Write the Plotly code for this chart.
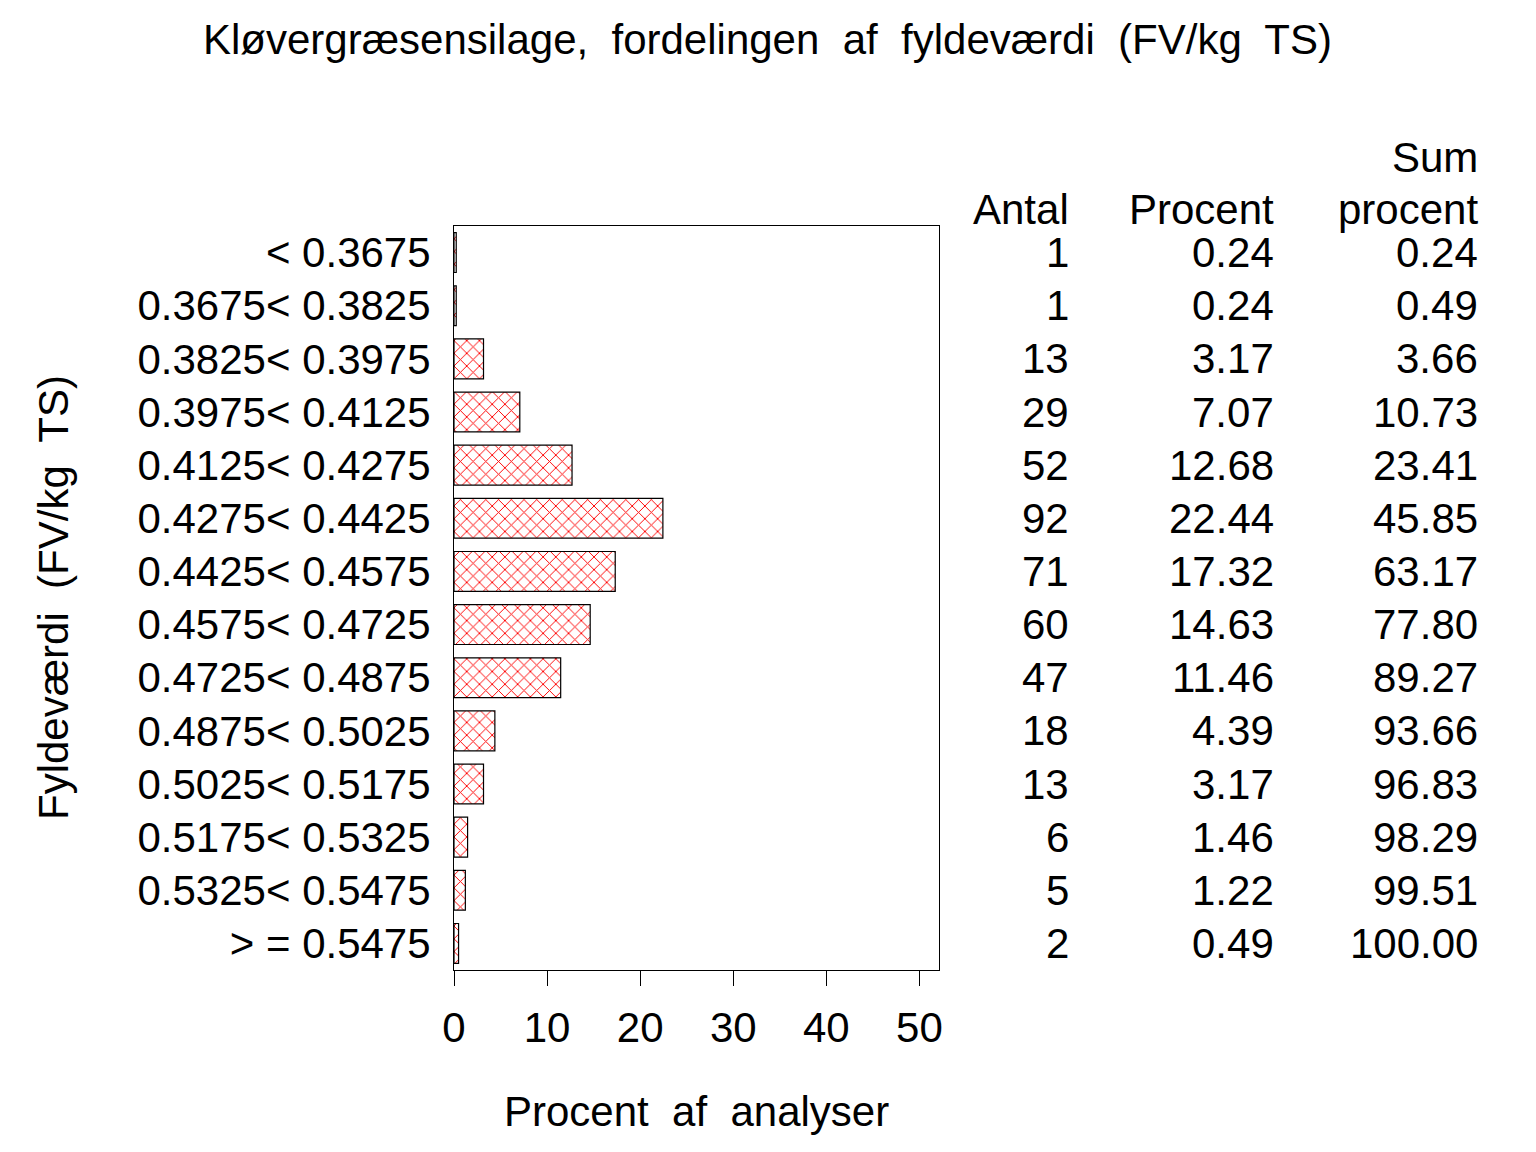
import plotly.graph_objects as go

W, H = 1536, 1152

categories = ["< 0.3675", "0.3675< 0.3825", "0.3825< 0.3975", "0.3975< 0.4125",
              "0.4125< 0.4275", "0.4275< 0.4425", "0.4425< 0.4575", "0.4575< 0.4725",
              "0.4725< 0.4875", "0.4875< 0.5025", "0.5025< 0.5175", "0.5175< 0.5325",
              "0.5325< 0.5475", "> = 0.5475"]
antal = [1, 1, 13, 29, 52, 92, 71, 60, 47, 18, 13, 6, 5, 2]
procent = [0.24, 0.24, 3.17, 7.07, 12.68, 22.44, 17.32, 14.63, 11.46, 4.39, 3.17, 1.46, 1.22, 0.49]
sum_procent = [0.24, 0.49, 3.66, 10.73, 23.41, 45.85, 63.17, 77.80, 89.27, 93.66, 96.83, 98.29, 99.51, 100.00]
x_ticks = [0, 10, 20, 30, 40, 50]

FONT = "Liberation Sans, Arial, sans-serif"
FS = 42

# plot frame in pixels
PL, PR, PT, PB = 454, 939, 226, 970

fig = go.Figure()
fig.add_trace(go.Bar(
    x=procent, y=categories, orientation="h", width=0.75,
    marker=dict(color="white", line=dict(color="black", width=1.2),
                pattern=dict(shape="x", fgcolor="#ff0000", bgcolor="white",
                             size=9, solidity=0.2, fgopacity=1)),
    showlegend=False, hoverinfo="skip"))

fig.update_layout(
    width=W, height=H, margin=dict(l=0, r=0, t=0, b=0),
    paper_bgcolor="white", plot_bgcolor="white",
    font=dict(family=FONT, size=FS, color="black"),
    xaxis=dict(domain=[PL / W, PR / W], range=[0, 52.1], tickvals=x_ticks,
               ticks="outside", ticklen=15, tickwidth=1, tickcolor="black",
               showgrid=False, zeroline=False, showline=True, linecolor="black",
               linewidth=1, mirror=True, tickfont=dict(size=FS),
               ticklabelstandoff=6, automargin=False),
    yaxis=dict(domain=[1 - PB / H, 1 - PT / H], categoryorder="array",
               categoryarray=categories, range=[13.5, -0.5], ticks="",
               showgrid=False, zeroline=False, showline=True, linecolor="black",
               linewidth=1, mirror=True, tickfont=dict(size=FS),
               ticklabelstandoff=14, automargin=False),
)

ann = []
col_x = [1071, 1276, 1480]
for i, cat in enumerate(categories):
    vals = [str(antal[i]), f"{procent[i]:.2f}", f"{sum_procent[i]:.2f}"]
    for cx, v in zip(col_x, vals):
        ann.append(dict(x=cx / W, xref="paper", y=cat, yref="y", text=v,
                        xanchor="right", yanchor="middle", showarrow=False,
                        font=dict(size=FS)))

headers = [(col_x[0], 210, "Antal"), (col_x[1], 210, "Procent"),
           (col_x[2], 210, "procent"), (col_x[2], 157, "Sum")]
for hx, hy, t in headers:
    ann.append(dict(x=hx / W, xref="paper", y=1 - hy / H, yref="paper", text=t,
                    xanchor="right", yanchor="middle", showarrow=False,
                    font=dict(size=FS)))

ann.append(dict(x=767 / W, xref="paper", y=1 - 40 / H, yref="paper",
                text="Kløvergræsensilage,\u00a0 fordelingen\u00a0 af\u00a0 fyldeværdi\u00a0 (FV/kg\u00a0 TS)",
                xanchor="center", yanchor="middle", showarrow=False,
                font=dict(size=FS)))
ann.append(dict(x=696 / W, xref="paper", y=1 - 1111 / H, yref="paper",
                text="Procent\u00a0 af\u00a0 analyser", xanchor="center", yanchor="middle",
                showarrow=False, font=dict(size=FS)))
ann.append(dict(x=53 / W, xref="paper", y=1 - 598 / H, yref="paper",
                text="Fyldeværdi\u00a0 (FV/kg\u00a0 TS)", textangle=-90,
                xanchor="center", yanchor="middle", showarrow=False,
                font=dict(size=FS)))
fig.update_layout(annotations=ann)

fig.write_html("out.html", config={"displayModeBar": False},
               post_script="document.body.style.margin='0';document.body.style.overflow='hidden';")
